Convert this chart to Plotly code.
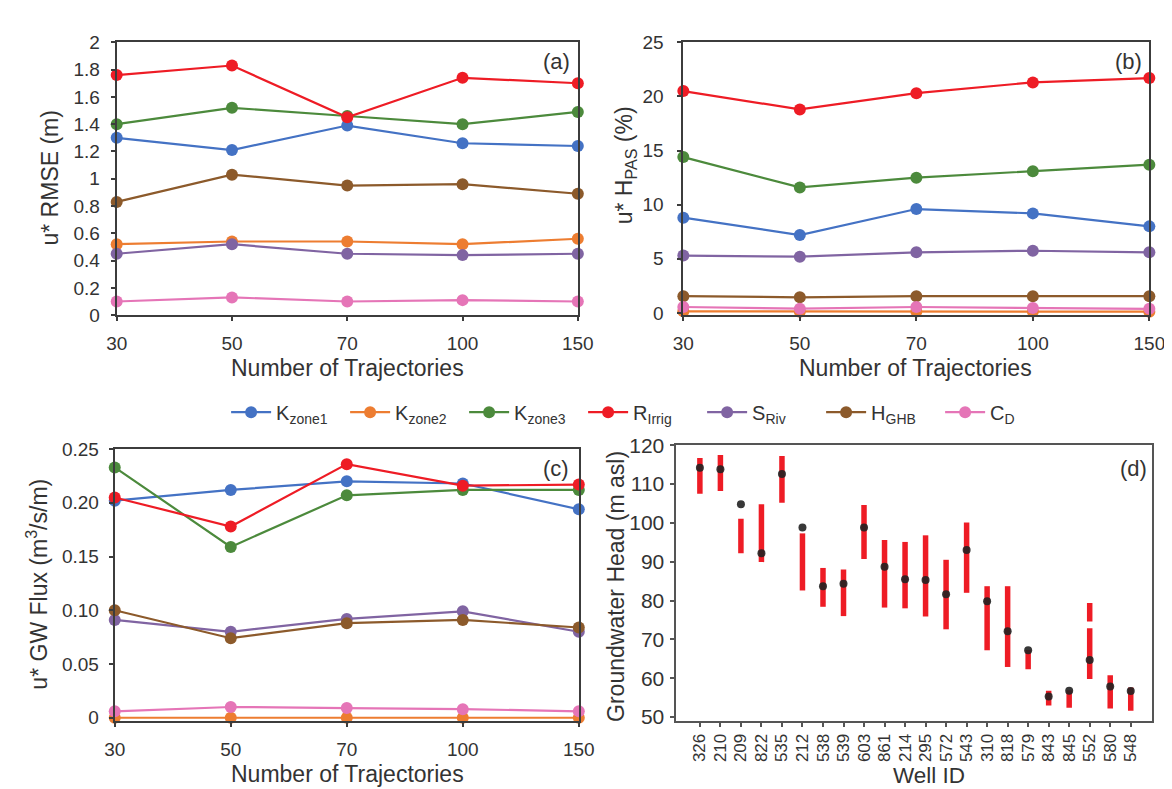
import plotly.graph_objects as go

# ---------------- data ----------------
trajectories = ["30", "50", "70", "100", "150"]
series_names = ["K<sub>zone1</sub>", "K<sub>zone2</sub>", "K<sub>zone3</sub>",
                "R<sub>Irrig</sub>", "S<sub>Riv</sub>", "H<sub>GHB</sub>", "C<sub>D</sub>"]
series_colors = ["#4472C4", "#ED7D31", "#4C8A3C", "#EE1C25", "#8064A2", "#8C5A2B", "#E575B7"]

# (a) u* RMSE (m)
rmse_kzone1 = [1.30, 1.21, 1.39, 1.26, 1.24]
rmse_kzone2 = [0.52, 0.54, 0.54, 0.52, 0.56]
rmse_kzone3 = [1.40, 1.52, 1.46, 1.40, 1.49]
rmse_rirrig = [1.76, 1.83, 1.45, 1.74, 1.70]
rmse_sriv = [0.45, 0.52, 0.45, 0.44, 0.45]
rmse_hghb = [0.83, 1.03, 0.95, 0.96, 0.89]
rmse_cd = [0.10, 0.13, 0.10, 0.11, 0.10]

# (b) u* H_PAS (%)
hpas_kzone1 = [8.8, 7.2, 9.6, 9.2, 8.0]
hpas_kzone2 = [0.15, 0.12, 0.14, 0.13, 0.12]
hpas_kzone3 = [14.4, 11.6, 12.5, 13.1, 13.7]
hpas_rirrig = [20.5, 18.8, 20.3, 21.3, 21.7]
hpas_sriv = [5.3, 5.2, 5.6, 5.75, 5.6]
hpas_hghb = [1.55, 1.45, 1.55, 1.55, 1.55]
hpas_cd = [0.55, 0.40, 0.55, 0.45, 0.38]

# (c) u* GW Flux (m3/s/m)
flux_kzone1 = [0.202, 0.212, 0.220, 0.218, 0.194]
flux_kzone2 = [0.0, 0.0, 0.0, 0.0, 0.0]
flux_kzone3 = [0.233, 0.159, 0.207, 0.212, 0.212]
flux_rirrig = [0.205, 0.178, 0.236, 0.216, 0.217]
flux_sriv = [0.091, 0.080, 0.092, 0.099, 0.080]
flux_hghb = [0.100, 0.074, 0.088, 0.091, 0.084]
flux_cd = [0.006, 0.010, 0.009, 0.008, 0.006]

# (d) Groundwater head per well
well_ids = ["326", "210", "209", "822", "535", "212", "538", "539", "603", "861", "214",
            "295", "572", "543", "310", "818", "579", "843", "845", "552", "580", "548"]
observed_head = [114.2, 113.8, 104.8, 92.2, 112.6, 98.8, 83.7, 84.3, 98.8, 88.7, 85.5,
                 85.3, 81.6, 93.0, 79.8, 72.1, 67.2, 55.3, 56.8, 64.7, 57.9, 56.7]
# simulated ranges (one segment per entry; well 552 has two segments)
sim_well = ["326", "210", "209", "822", "535", "212", "538", "539", "603", "861", "214",
            "295", "572", "543", "310", "818", "579", "843", "845", "552", "552", "580", "548"]
sim_low = [107.5, 108.2, 92.2, 89.9, 105.2, 82.6, 78.4, 76.0, 90.7, 78.2, 78.0,
           75.9, 72.6, 82.0, 67.2, 62.9, 62.3, 53.0, 52.4, 59.8, 74.6, 52.2, 51.6]
sim_high = [116.7, 117.5, 101.1, 104.8, 117.2, 97.3, 88.4, 88.0, 104.6, 95.6, 95.1,
            96.8, 90.5, 100.1, 83.7, 83.7, 67.3, 56.8, 56.9, 72.9, 79.4, 60.8, 57.6]

rmse_all = [rmse_kzone1, rmse_kzone2, rmse_kzone3, rmse_rirrig, rmse_sriv, rmse_hghb, rmse_cd]
hpas_all = [hpas_kzone1, hpas_kzone2, hpas_kzone3, hpas_rirrig, hpas_sriv, hpas_hghb, hpas_cd]
flux_all = [flux_kzone1, flux_kzone2, flux_kzone3, flux_rirrig, flux_sriv, flux_hghb, flux_cd]

# ---------------- figure ----------------
W, H = 1172, 789
FONT = "Liberation Sans, Arial, sans-serif"
TXT = "#333333"
AX = "#3c3c3c"

fig = go.Figure()
xpos = list(range(len(trajectories)))

for panel, data in [("", rmse_all), ("2", hpas_all), ("3", flux_all)]:
    for i, vals in enumerate(data):
        fig.add_trace(go.Scatter(
            x=xpos, y=vals, mode="lines+markers",
            name=series_names[i],
            legendgroup=series_names[i],
            showlegend=(panel == ""),
            line=dict(color=series_colors[i], width=2.2),
            marker=dict(color=series_colors[i], size=12),
            cliponaxis=False,
            xaxis="x" + panel, yaxis="y" + panel,
        ))

# panel (d)
well_index = {w: i for i, w in enumerate(well_ids)}
seg_x, seg_y = [], []
for w, lo, hi in zip(sim_well, sim_low, sim_high):
    seg_x += [well_index[w], well_index[w], None]
    seg_y += [lo, hi, None]
fig.add_trace(go.Scatter(x=seg_x, y=seg_y, mode="lines", showlegend=False,
                         line=dict(color="#EE1C25", width=5.5),
                         xaxis="x4", yaxis="y4", hoverinfo="skip"))
fig.add_trace(go.Scatter(x=list(range(len(well_ids))), y=observed_head, mode="markers",
                         showlegend=False,
                         marker=dict(color="#222222", size=8, opacity=0.9),
                         xaxis="x4", yaxis="y4"))


def px_x(a, b):
    return [a / W, b / W]


def px_y(top, bottom):
    return [1 - bottom / H, 1 - top / H]


base = dict(showline=True, mirror=True, linecolor=AX, linewidth=2,
            ticks="outside", ticklen=4, tickwidth=1.5, tickcolor=AX,
            showgrid=False, zeroline=False,
            tickfont=dict(family=FONT, size=19, color=TXT))

xcat = dict(base, tickmode="array", tickvals=xpos, ticktext=trajectories, range=[0, 4],
            ticklabelstandoff=6)

fig.update_layout(
    width=W, height=H,
    margin=dict(l=0, r=0, t=0, b=0),
    paper_bgcolor="white", plot_bgcolor="white",
    font=dict(family=FONT, color=TXT),
    showlegend=True,
    legend=dict(orientation="h", x=212 / W, xanchor="left", y=1 - 404 / H, yanchor="middle",
                font=dict(family=FONT, size=20, color=TXT), entrywidth=64,
                itemwidth=40, bgcolor="rgba(0,0,0,0)"),
    xaxis=dict(xcat, domain=px_x(100, 572), anchor="y"),
    yaxis=dict(base, domain=px_y(23, 304), range=[0, 2], dtick=0.2, anchor="x",
               ticklabelstandoff=7),
    xaxis2=dict(xcat, domain=px_x(680, 1157), anchor="y2"),
    yaxis2=dict(base, domain=px_y(23, 304), range=[-0.2, 25], dtick=5, anchor="x2",
                ticklabelstandoff=10),
    xaxis3=dict(xcat, domain=px_x(98, 573), anchor="y3"),
    yaxis3=dict(base, domain=px_y(442, 722), range=[-0.003, 0.25], anchor="x3",
                tickmode="array", tickvals=[0, 0.05, 0.10, 0.15, 0.20, 0.25],
                ticktext=["0", "0.05", "0.10", "0.15", "0.20", "0.25"],
                ticklabelstandoff=6),
    xaxis4=dict(base, domain=px_x(673, 1160), anchor="y4", range=[-1.14, 22.05],
                linecolor="#555555", tickcolor="#555555",
                tickmode="array", tickvals=list(range(len(well_ids))), ticktext=well_ids,
                tickangle=-90, tickfont=dict(family=FONT, size=17, color=TXT),
                ticklabelstandoff=0),
    yaxis4=dict(base, domain=px_y(438, 722), range=[49, 120], dtick=10, anchor="x4",
                linecolor="#555555", tickcolor="#555555",
                tickfont=dict(family=FONT, size=21, color=TXT),
                ticklabelstandoff=2),
)

# axis titles (placed at measured positions)
axis_titles = [
    ("Number of Trajectories", 336, 358, 0, 23),
    ("Number of Trajectories", 918, 358, 0, 23),
    ("Number of Trajectories", 336, 777, 0, 23),
    ("Well ID", 931, 778, 0, 22.5),
    ("u* RMSE (m)", 32, 163, -90, 23),
    ("u* H<sub>PAS</sub> (%)", 621, 150, -90, 23),
    ("u* GW Flux (m<sup>3</sup>/s/m)", 19, 581, -90, 23),
    ("Groundwater Head (m asl)", 611, 583, -90, 23),
]
for txt, x, y, ang, fs in axis_titles:
    fig.add_annotation(text=txt, x=x / W, y=1 - y / H, xref="paper", yref="paper",
                       showarrow=False, xanchor="center", yanchor="middle", textangle=ang,
                       font=dict(family=FONT, size=fs, color=TXT))

labels = [("(a)", 550, 43), ("(b)", 1136, 43), ("(c)", 550, 462), ("(d)", 1141, 462)]
for txt, x, y in labels:
    fig.add_annotation(text=txt, x=x / W, y=1 - y / H, xref="paper", yref="paper",
                       showarrow=False, xanchor="center", yanchor="middle",
                       font=dict(family=FONT, size=22, color=TXT))

fig.write_html("out.html")
